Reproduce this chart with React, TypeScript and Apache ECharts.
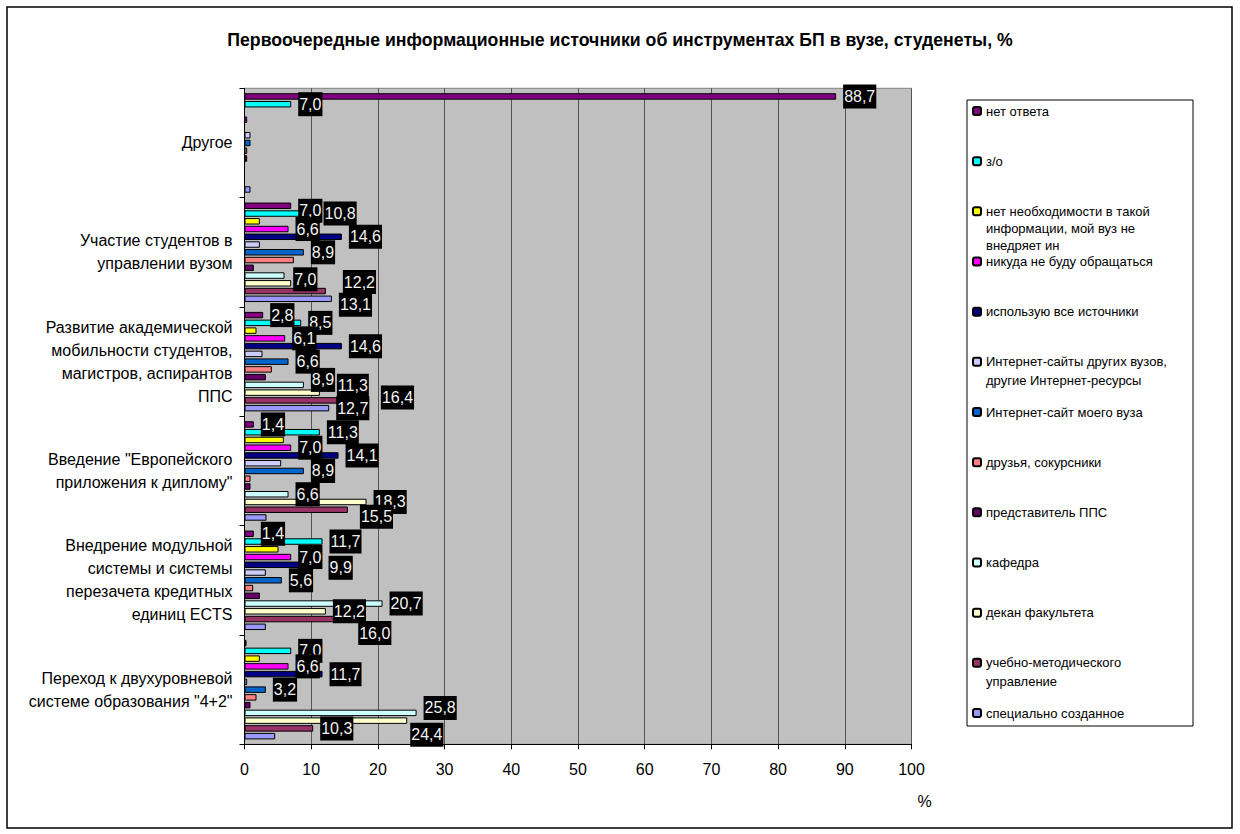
import React, { useEffect, useRef } from 'react';
import * as echarts from 'echarts';

const FONT = '"Liberation Sans", Arial, sans-serif';

const titleText = 'Первоочередные информационные источники об инструментах БП в вузе, студенеты, %';

// bottom -> top
const categories = [
  'Переход к двухуровневой\nсистеме образования "4+2"',
  'Внедрение модульной\nсистемы и системы\nперезачета кредитных\nединиц ECTS',
  'Введение "Европейского\nприложения к диплому"',
  'Развитие академической\nмобильности студентов,\nмагистров, аспирантов\nППС',
  'Участие студентов в\nуправлении вузом',
  'Другое',
];

const seriesNames = [
  'нет ответа',
  'з/о',
  'нет необходимости в такой\nинформации, мой вуз не\nвнедряет ин',
  'никуда не буду обращаться',
  'использую все источники',
  'Интернет-сайты других вузов,\nдругие Интернет-ресурсы',
  'Интернет-сайт моего вуза',
  'друзья, сокурсники',
  'представитель ППС',
  'кафедра',
  'декан факультета',
  'учебно-методического\nуправление',
  'специально созданное',
];

const seriesColors = [
  '#800080', '#00FFFF', '#FFFF00', '#FF00FF', '#000080', '#CCCCFF', '#0066CC',
  '#FF8080', '#660066', '#CCFFFF', '#FFFFCC', '#993366', '#9999FF',
];

// values per category, bottom -> top
const noAnswer = [0.3, 1.4, 1.4, 2.8, 7.0, 88.7];
const zo = [7.0, 11.7, 11.3, 8.5, 10.8, 7.0];
const noNeed = [2.3, 5.1, 5.9, 1.8, 2.3, 0];
const nowhere = [6.6, 7.0, 7.0, 6.1, 6.6, 0.4];
const allSources = [11.7, 9.9, 14.1, 14.6, 14.6, 0];
const otherSites = [0.4, 3.2, 5.5, 2.7, 2.3, 0.9];
const mySite = [3.2, 5.6, 8.9, 6.6, 8.9, 0.9];
const friends = [1.8, 1.3, 0.9, 4.1, 7.4, 0.4];
const teacher = [0.9, 2.3, 0.9, 3.2, 1.4, 0.4];
const chair = [25.8, 20.7, 6.6, 8.9, 6.0, 0];
const dean = [24.4, 12.2, 18.3, 11.3, 7.0, 0];
const methodDept = [10.3, 16.0, 15.5, 16.4, 12.2, 0];
const special = [4.6, 3.2, 3.3, 12.7, 13.1, 0.9];

const seriesValues = [
  noAnswer, zo, noNeed, nowhere, allSources, otherSites, mySite,
  friends, teacher, chair, dean, methodDept, special,
];

const xTicks = { min: 0, max: 100, interval: 10 };

// which series carry value labels
const labeledSeries = [0, 1, 3, 4, 6, 9, 10, 11, 12];
// labels not visible in the original (seriesIndex -> category indexes)
const hiddenLabels: Record<number, number[]> = {
  0: [0],
  3: [5],
  4: [5],
  6: [5],
  9: [4, 5],
  10: [5],
  11: [5],
  12: [0, 1, 2, 5],
};
// label nudges [dx, dy] (style only)
const labelNudges: Record<string, [number, number]> = {
  '0-4': [0, 5],
  '10-4': [-5, -4],
  '11-4': [10, -9],
  '12-4': [0, 6],
  '9-3': [0, -5],
  '10-3': [10, -7],
  '11-3': [20, -3],
  '11-2': [5, 7],
  '4-1': [11, 3],
  '11-1': [0, 14],
  '9-0': [0, -5],
  '10-0': [-4, 14],
};

const fmt = (v: number) => v.toFixed(1).replace('.', ',');

function buildSeries() {
  return seriesNames.map((name, s) => {
    const hasLabels = labeledSeries.includes(s);
    const hidden = hiddenLabels[s] || [];
    return {
      name,
      type: 'bar',
      barGap: '20%',
      barCategoryGap: '9%',
      itemStyle: { color: seriesColors[s], borderColor: '#000', borderWidth: 1 },
      label: {
        show: hasLabels,
        position: 'right',
        distance: 7,
        formatter: (p: any) => fmt(p.value),
        color: '#f2f2f2',
        backgroundColor: '#000',
        padding: [3, 1, 2, 1],
        fontSize: 16,
        lineHeight: 19,
        fontFamily: FONT,
      },
      data: seriesValues[s].map((v, c) => {
        const nudge = labelNudges[`${s}-${c}`];
        const item: any = { value: v };
        if (hasLabels && (hidden.includes(c) || nudge)) {
          item.label = hidden.includes(c) ? { show: false } : { offset: nudge };
        }
        return item;
      }),
    };
  });
}

function buildLegends() {
  return seriesNames.map((name, k) => {
    const n = name.split('\n').length;
    const lh = n === 1 ? 15 : n === 3 ? 17 : 19;
    const center = 111 + 50.17 * k;
    const h = (2 * n - 1) * lh;
    return {
      data: [name],
      left: 972,
      top: center - h / 2,
      orient: 'vertical',
      padding: 0,
      itemWidth: 8,
      itemHeight: 8,
      selectedMode: false,
      // blank leading lines keep the icon level with the first line of text
      formatter: (nm: string) => '\n'.repeat(n - 1) + nm,
      textStyle: {
        fontSize: 13,
        fontFamily: FONT,
        color: '#000',
        lineHeight: lh,
      },
    };
  });
}

export default function App() {
  const ref = useRef<HTMLDivElement>(null);
  useEffect(() => {
    const chart = echarts.init(ref.current!, null, { renderer: 'svg' });
    chart.setOption({
      animation: false,
      backgroundColor: '#fff',
      title: {
        text: titleText,
        left: 'center',
        top: 30,
        padding: 0,
        textStyle: { fontSize: 17.7, fontWeight: 'bold', fontFamily: FONT, color: '#000', lineHeight: 20 },
      },
      graphic: [
        {
          type: 'rect',
          shape: { x: 7, y: 7, width: 1225, height: 821 },
          style: { fill: 'none', stroke: '#000', lineWidth: 1.5 },
          silent: true,
          z: 0,
        },
        {
          type: 'rect',
          shape: { x: 967, y: 100, width: 226, height: 626 },
          style: { fill: '#fff', stroke: '#000', lineWidth: 1 },
          silent: true,
          z: 0,
        },
      ],
      legend: buildLegends(),
      grid: {
        left: 244.5,
        top: 88.3,
        right: 1240 - 911.5,
        bottom: 834 - 744.3,
        show: true,
        backgroundColor: '#C0C0C0',
        borderColor: '#808080',
        borderWidth: 1,
        containLabel: false,
      },
      xAxis: {
        type: 'value',
        min: xTicks.min,
        max: xTicks.max,
        interval: xTicks.interval,
        name: '%',
        nameLocation: 'end',
        nameGap: 6,
        nameMoveOverlap: false,
        nameTextStyle: {
          fontSize: 16,
          fontFamily: FONT,
          color: '#000',
          verticalAlign: 'top',
          lineHeight: 18,
          padding: [48, 0, 0, 0],
        },
        axisLine: { show: true, lineStyle: { color: '#000', width: 1 } },
        axisTick: { show: true, length: 5, lineStyle: { color: '#000' } },
        axisLabel: { fontSize: 16, fontFamily: FONT, color: '#000', margin: 17 },
        splitLine: { show: true, lineStyle: { color: '#555', width: 1 } },
      },
      yAxis: {
        type: 'category',
        data: categories,
        axisLine: { show: true, lineStyle: { color: '#000', width: 1 } },
        axisTick: { show: true, length: 5, lineStyle: { color: '#000' } },
        axisLabel: { fontSize: 16, fontFamily: FONT, color: '#000', margin: 12, lineHeight: 23 },
        splitLine: { show: false },
      },
      series: buildSeries(),
    });
    return () => chart.dispose();
  }, []);
  return (
    <div
      ref={ref}
      style={{ position: 'fixed', left: 0, top: 0, width: 1240, height: 834, background: '#fff' }}
    />
  );
}
